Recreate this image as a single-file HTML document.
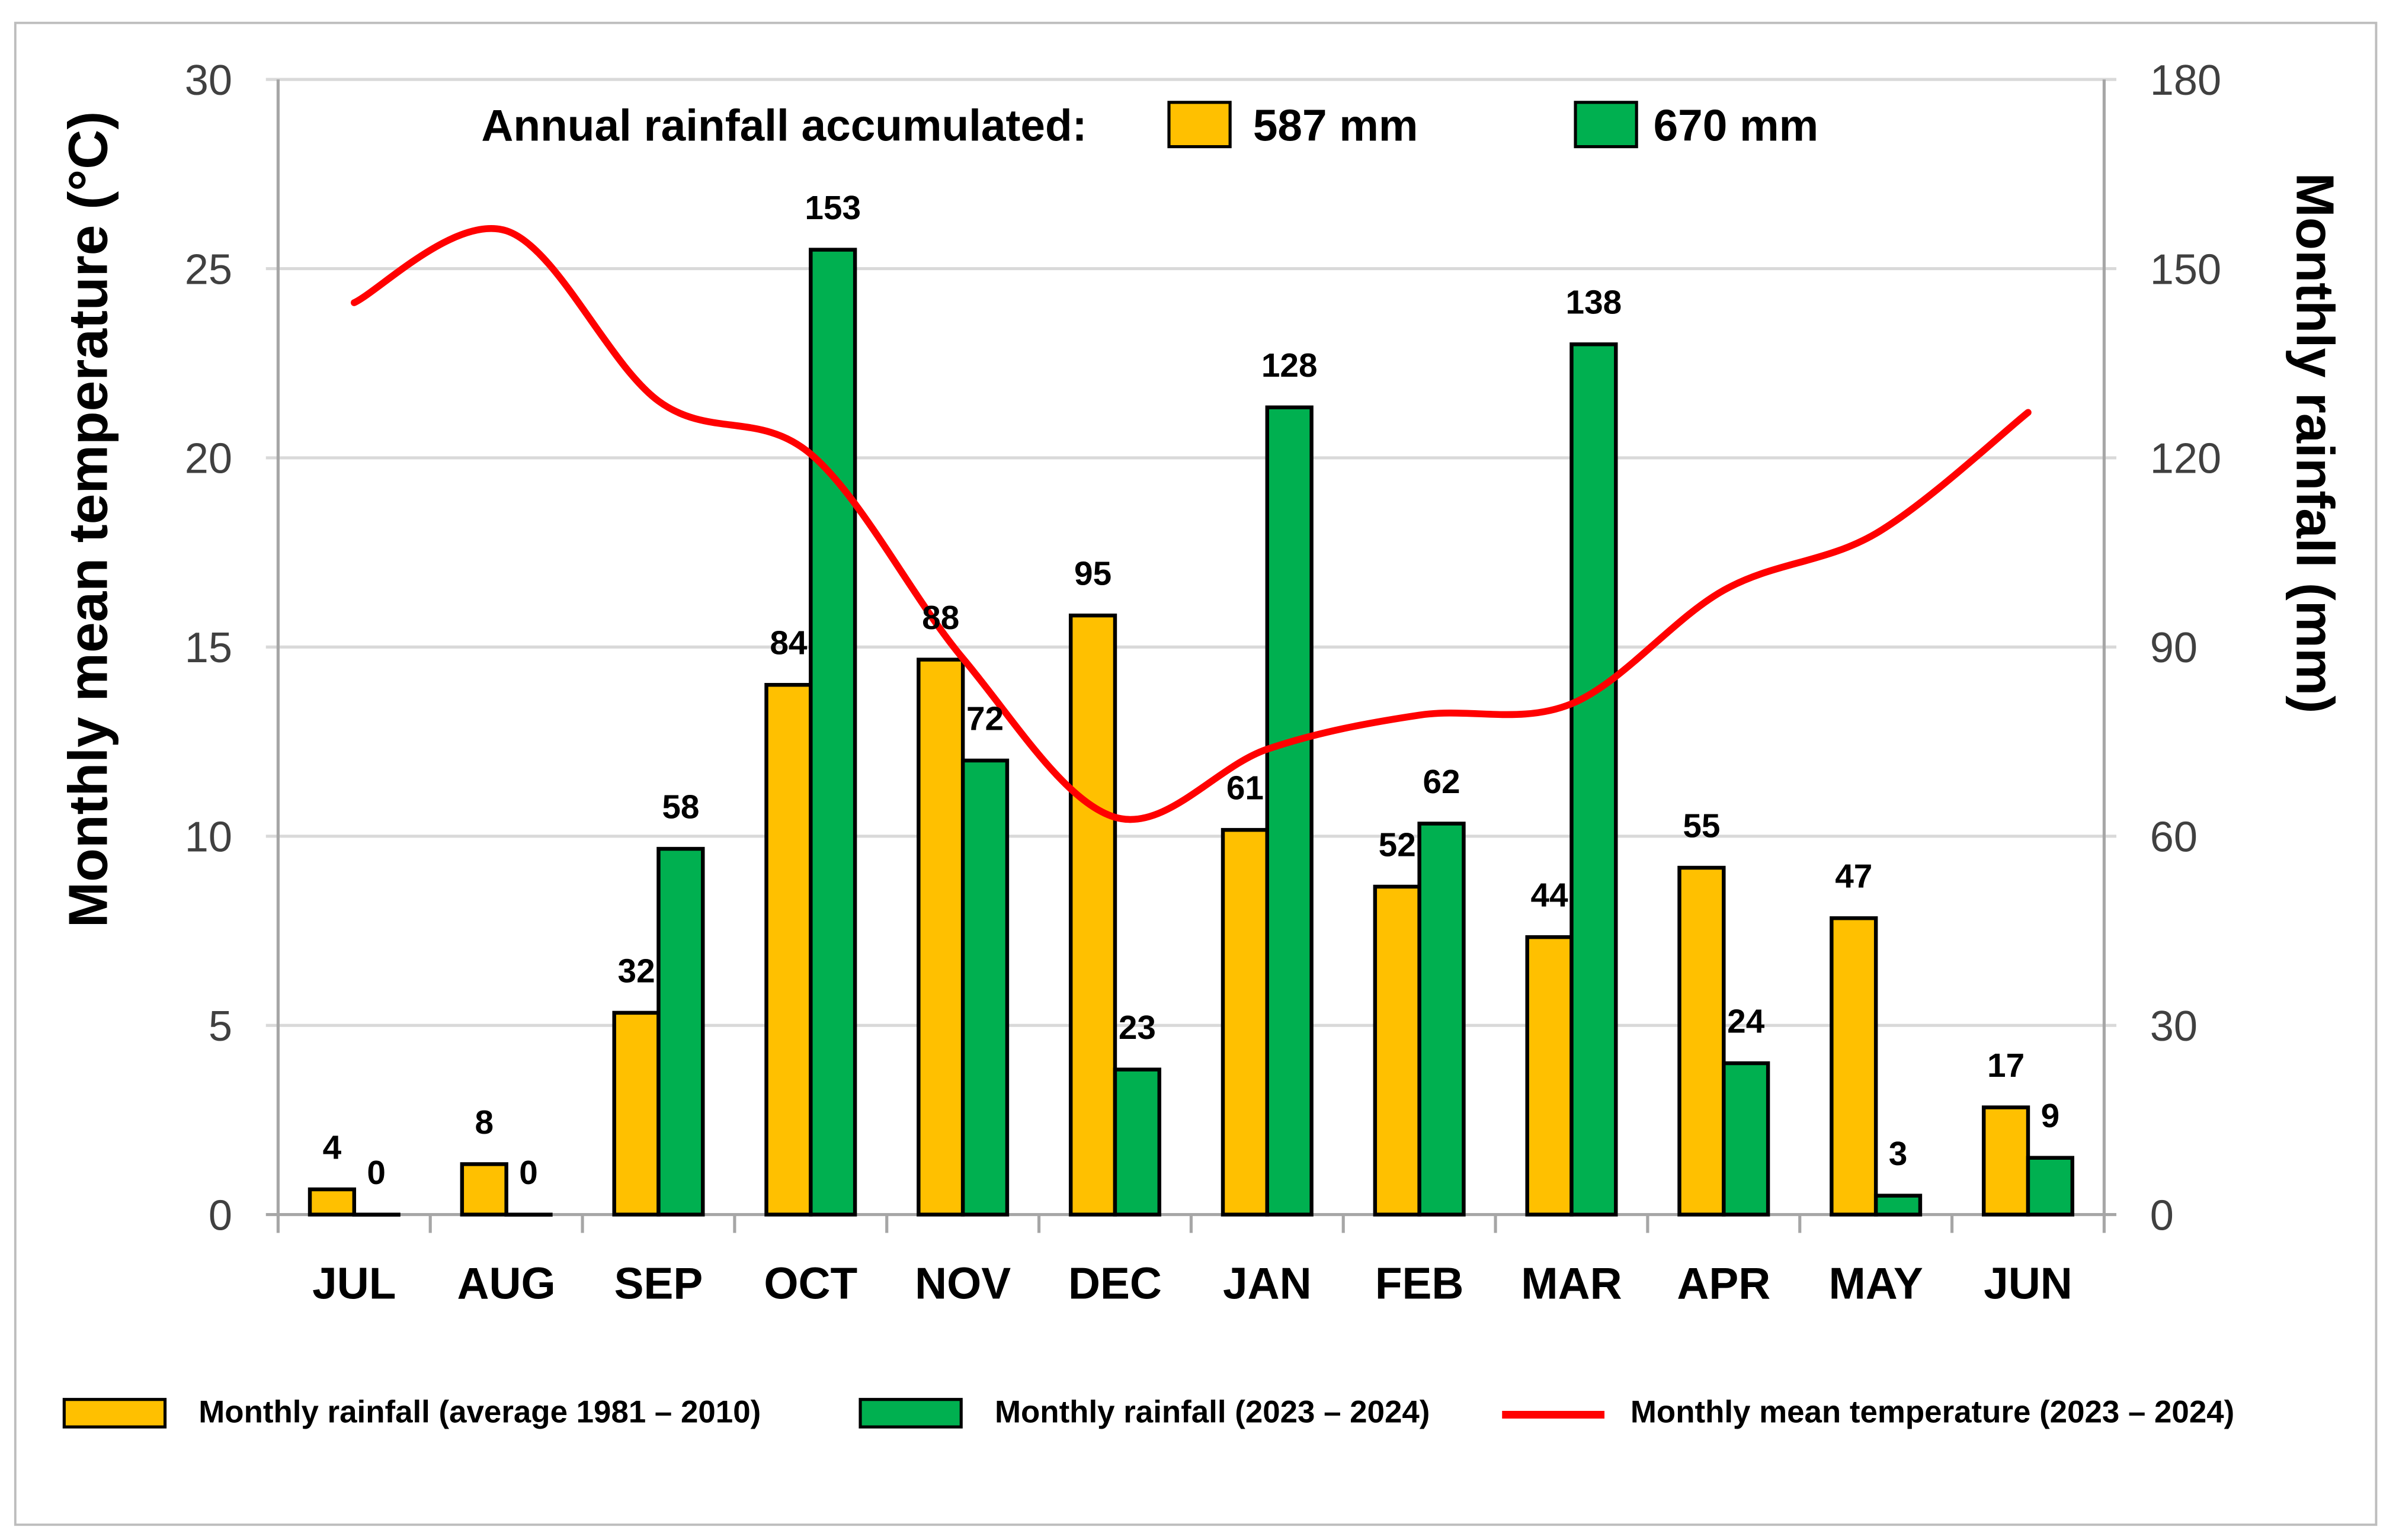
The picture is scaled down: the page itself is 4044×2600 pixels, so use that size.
<!DOCTYPE html>
<html><head><meta charset="utf-8"><style>
html,body{margin:0;padding:0;background:#fff;}
svg{display:block;}
text{font-family:"Liberation Sans Narrow","Liberation Sans",sans-serif;}
</style></head><body>
<svg id="chart" width="4044" height="2600" viewBox="0 0 1568 1008" preserveAspectRatio="none" xmlns="http://www.w3.org/2000/svg">
<rect x="10" y="15" width="1545" height="983" fill="#fff" stroke="#bdbdbd" stroke-width="1.5"/>
<g id="grid"></g>
<g id="bars"></g>
<g id="line"></g>
<g id="labels"></g>
<text transform="translate(70,340) rotate(-90)" text-anchor="middle" font-size="36" font-weight="bold" style="font-family:'Liberation Sans',sans-serif">Monthly mean temperature (°C)</text>
<text transform="translate(1503,290) rotate(90)" text-anchor="middle" font-size="35" font-weight="bold" style="font-family:'Liberation Sans',sans-serif">Monthly rainfall (mm)</text>
<g>
<text x="315" y="92" font-size="29" font-weight="bold">Annual rainfall accumulated:</text>
<rect x="765" y="67" width="40" height="29" fill="#FFC000" stroke="#000" stroke-width="2"/>
<text x="820" y="92" font-size="29" font-weight="bold">587 mm</text>
<rect x="1031" y="67" width="40" height="29" fill="#00B050" stroke="#000" stroke-width="2"/>
<text x="1082" y="92" font-size="29" font-weight="bold">670 mm</text>
</g>
<g>
<rect x="42" y="916" width="66" height="18" fill="#FFC000" stroke="#000" stroke-width="2"/>
<text x="130" y="931" font-size="20.5" font-weight="bold">Monthly rainfall (average 1981 – 2010)</text>
<rect x="563" y="916" width="66" height="18" fill="#00B050" stroke="#000" stroke-width="2"/>
<text x="651" y="931" font-size="20.5" font-weight="bold">Monthly rainfall (2023 – 2024)</text>
<line x1="983" y1="926" x2="1050" y2="926" stroke="#FF0000" stroke-width="5"/>
<text x="1067" y="931" font-size="20.5" font-weight="bold">Monthly mean temperature (2023 – 2024)</text>
</g>
</svg>
<script>
const months = ["JUL","AUG","SEP","OCT","NOV","DEC","JAN","FEB","MAR","APR","MAY","JUN"];
const rainAvg = [4,8,32,84,88,95,61,52,44,55,47,17];
const rain2023 = [0,0,58,153,72,23,128,62,138,24,3,9];
const temp2023 = [24.1,26.0,21.5,20.1,14.7,10.5,12.3,13.2,13.5,16.5,18.0,21.2];
const leftTicks = [0,5,10,15,20,25,30];
const rightTicks = [0,30,60,90,120,150,180];

const NS="http://www.w3.org/2000/svg";
const L=182,R=1377,Y0=795,YT=52;
const cw=(R-L)/months.length;
const xC=i=>L+cw*(i+0.5);
const yT=v=>Y0-(v/30)*(Y0-YT);
const yR=v=>Y0-(v/180)*(Y0-YT);
function mk(tag,attrs,parent){const e=document.createElementNS(NS,tag);for(const k in attrs)e.setAttribute(k,attrs[k]);document.getElementById(parent).appendChild(e);return e;}

leftTicks.forEach((t,i)=>{
  const y=yT(t);
  const g=mk("line",{x1:L-8,x2:R+8,y1:y,y2:y,stroke:i===0?"#a6a6a6":"#d9d9d9","stroke-width":2},"grid");
  
  
  const tl=mk("text",{x:L-30,y:y+10,"text-anchor":"end","font-size":28,fill:"#404040"},"grid");
  tl.textContent=t;
  
  
});
rightTicks.forEach(t=>{
  const y=yR(t);
  const tl=mk("text",{x:R+30,y:y+10,"text-anchor":"start","font-size":28,fill:"#404040"},"grid");
  tl.textContent=t;
  
  
});
const la=mk("line",{x1:L,x2:L,y1:YT,y2:Y0+12,stroke:"#a6a6a6","stroke-width":2},"grid");


const ra=mk("line",{x1:R,x2:R,y1:YT,y2:Y0+12,stroke:"#a6a6a6","stroke-width":2},"grid");


for(let i=1;i<months.length;i++){
  const tk=mk("line",{x1:L+cw*i,x2:L+cw*i,y1:Y0,y2:Y0+12,stroke:"#a6a6a6","stroke-width":2},"grid");
  
  
}
const bw=29;
months.forEach((m,i)=>{
  const c=xC(i);
  const a=mk("rect",{x:c-bw,y:yR(rainAvg[i]),width:bw,height:Y0-yR(rainAvg[i]),fill:"#FFC000",stroke:"#000","stroke-width":2.5},"bars");
  
  
  const g=mk("rect",{x:c,y:yR(rain2023[i]),width:bw,height:Math.max(Y0-yR(rain2023[i]),0.1),fill:"#00B050",stroke:"#000","stroke-width":2.5},"bars");
  
  
  const t1=mk("text",{x:c-bw/2,y:yR(rainAvg[i])-20,"text-anchor":"middle","font-size":22,"font-weight":"bold"},"labels");
  t1.textContent=rainAvg[i];
  
  
  const t2=mk("text",{x:c+bw/2,y:yR(rain2023[i])-20,"text-anchor":"middle","font-size":22,"font-weight":"bold"},"labels");
  t2.textContent=rain2023[i];
  
  
  const ml=mk("text",{x:c,y:850,"text-anchor":"middle","font-size":29,"font-weight":"bold"},"labels");
  ml.textContent=m;
  
  
});
const pts=temp2023.map((v,i)=>[xC(i),yT(v)]);
let d="M"+pts[0][0]+","+pts[0][1];
for(let i=0;i<pts.length-1;i++){
  const p0=pts[Math.max(i-1,0)],p1=pts[i],p2=pts[i+1],p3=pts[Math.min(i+2,pts.length-1)];
  const c1=[p1[0]+(p2[0]-p0[0])/6,p1[1]+(p2[1]-p0[1])/6];
  const c2=[p2[0]-(p3[0]-p1[0])/6,p2[1]-(p3[1]-p1[1])/6];
  d+=" C"+c1+" "+c2+" "+p2;
}
const ln=mk("path",{d:d,fill:"none",stroke:"#FF0000","stroke-width":4.5,"stroke-linecap":"round"},"line");


</script>
</body></html>
